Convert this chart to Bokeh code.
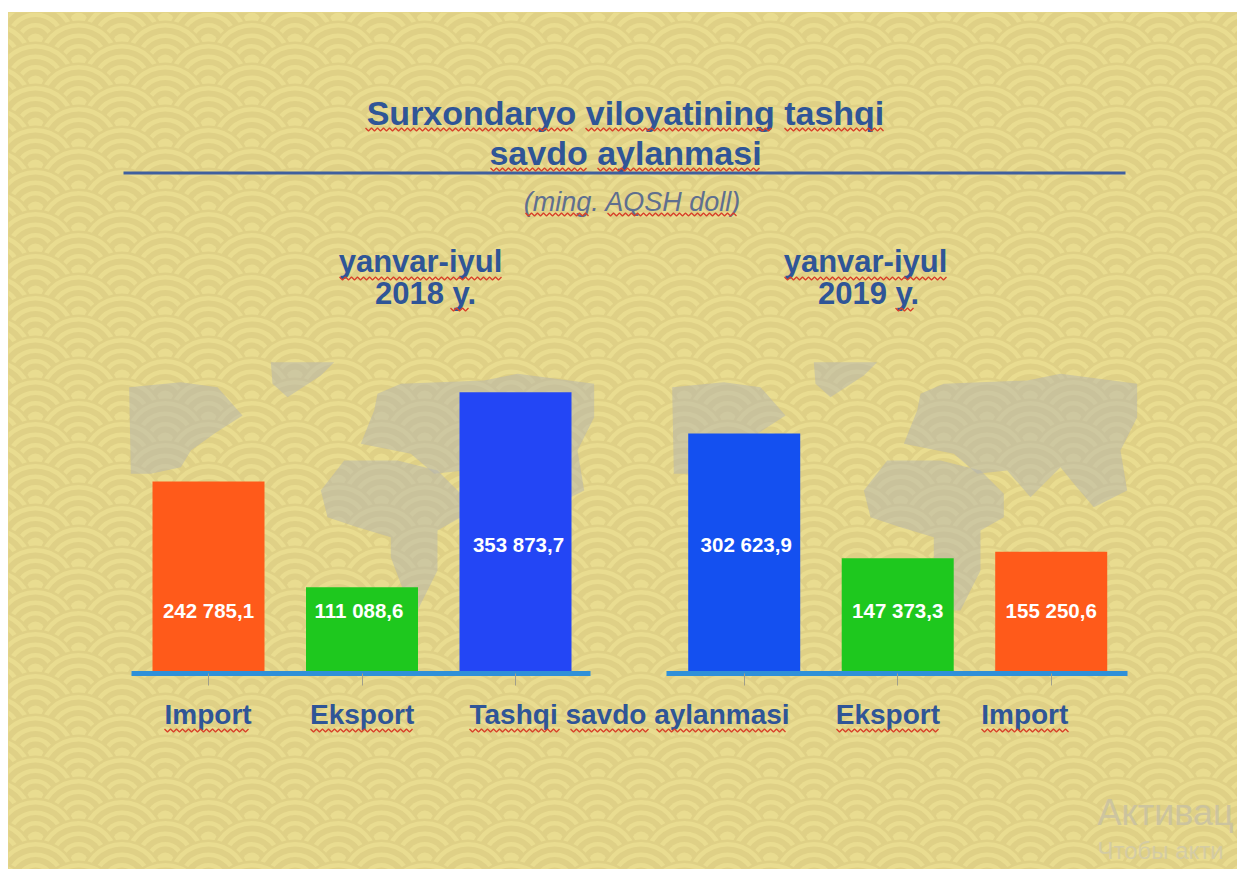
from bokeh.plotting import figure
from bokeh.models import Range1d, LinearAxis, FixedTicker
from bokeh.core.properties import value
from bokeh.embed import file_html
from bokeh.resources import INLINE
import numpy as np

# ---- data ----
labels_2018 = ["Import", "Eksport", "Tashqi savdo aylanmasi"]
values_2018 = [242785.1, 111088.6, 353873.7]
texts_2018 = ["242 785,1", "111 088,6", "353 873,7"]
labels_2019 = ["", "Eksport", "Import"]
values_2019 = [302623.9, 147373.3, 155250.6]
texts_2019 = ["302 623,9", "147 373,3", "155 250,6"]
title_lines = ["Surxondaryo viloyatining tashqi", "savdo aylanmasi"]
unit_text = "(ming. AQSH doll)"
period_text = "yanvar-iyul"
year_texts = ["2018 y.", "2019 y."]
watermark = ["Активац", "Чтобы акти"]

COL_IMPORT = "#ff5a1a"
COL_EXPORT = "#1ec81e"
COL_TOTAL_18 = "#2346f5"
COL_TOTAL_19 = "#1450f0"
COL_TITLE = "#2f5597"
FONT = value("Liberation Sans")

# ---- scales: page pixels <-> data ----
UNITS_PER_PX = 1245.4
ZERO_PY = 676.0
BAR_PX = 153.5
ORIGIN_PX = 208.0
LEFT, RIGHT, TOP, BOTTOM = 8, 1237, 12, 869

def X(px):
    return (np.asarray(px, dtype=float) - ORIGIN_PX) / BAR_PX

def Y(py):
    return (ZERO_PY - np.asarray(py, dtype=float)) * UNITS_PER_PX

p = figure(width=RIGHT, height=BOTTOM, output_backend="svg", toolbar_location=None,
           x_range=Range1d(float(X(LEFT)), float(X(RIGHT))),
           y_range=Range1d(float(Y(BOTTOM)), float(Y(TOP))),
           x_axis_type=None, y_axis_type=None,
           min_border_left=LEFT, min_border_right=0, min_border_top=TOP, min_border_bottom=0)
p.outline_line_color = None
p.grid.visible = False
p.background_fill_color = "#e4d68c"
p.border_fill_color = "white"

# ---- seigaiha background ----
PERIOD, ROW, XA = 86.5, 21.0, 35.0
LIGHT, DARK = "#e9dc90", "#dfd086"
RINGS = [(86, DARK), (81, LIGHT), (72, DARK), (60, LIGHT), (51, DARK),
         (39, LIGHT), (30, DARK), (18, LIGHT)]
xs, ys, sizes, cols = [], [], [], []
for r, cy in enumerate(np.arange(0, 930, ROW)):
    off = 0 if r % 2 == 0 else PERIOD / 2
    for cx in np.arange(XA + off - 2 * PERIOD, 1340, PERIOD):
        for d, c in RINGS:
            xs.append(cx); ys.append(cy); sizes.append(d); cols.append(c)
p.scatter(X(xs), Y(ys), size=sizes, fill_color=cols, line_color=None, marker="circle")

# ---- world map silhouettes (drawn on the 2019 map's zoomed outline) ----
MAP_SHAPES = [
    [(35, 110), (190, 95), (300, 110), (375, 195), (290, 250), (220, 300), (190, 350), (100, 370), (40, 370)],
    [(460, 35), (650, 35), (610, 75), (510, 140), (465, 100)],
    [(780, 130), (850, 100), (1100, 90), (1200, 70), (1430, 100), (1430, 200), (1380, 300), (1400, 420),
     (1300, 470), (1240, 400), (1200, 350), (1110, 440), (1040, 360), (950, 370), (880, 310), (730, 280), (770, 180)],
    [(610, 420), (680, 330), (840, 330), (960, 360), (1030, 430), (1030, 500), (960, 540), (960, 660),
     (900, 780), (880, 780), (820, 620), (820, 560), (720, 530), (630, 500)],
]
map_x, map_y = [], []
for shift in (0, -543):
    for shape in MAP_SHAPES:
        map_x.append(X([a / 3 + 660 + shift for a, _ in shape]).tolist())
        map_y.append(Y([b / 3 + 350 for _, b in shape]).tolist())
p.patches(map_x, map_y, fill_color="#b4b4b0", fill_alpha=0.5, line_color=None)

# ---- bars ----
GROUP_GAP = 3.49
bar_x = [0, 1, 2, GROUP_GAP, GROUP_GAP + 1, GROUP_GAP + 2]
bar_v = values_2018 + values_2019
bar_c = [COL_IMPORT, COL_EXPORT, COL_TOTAL_18, COL_TOTAL_19, COL_EXPORT, COL_IMPORT]
base = float(Y(673))
p.vbar(x=bar_x, width=112 / BAR_PX, bottom=base, top=bar_v, fill_color=bar_c, line_color=None)

# ---- value labels ----
val_y = [Y(610), Y(610), Y(544), Y(544), Y(610), Y(610)]
val_dx = [0, -3, 3, 2, 0, 0]
p.text(bar_x, [float(v) for v in val_y], text=texts_2018 + texts_2019, x_offset=val_dx,
       text_align="center", text_baseline="middle", text_color="white",
       text_font=FONT, text_font_style="bold", text_font_size="20.5px")

# ---- axes ----
for a, b, ticks in [(131, 590, bar_x[:3]), (666, 1127, bar_x[3:])]:
    ax = LinearAxis(fixed_location=base, bounds=(float(X(a)), float(X(b))),
                    ticker=FixedTicker(ticks=ticks),
                    major_label_overrides={t: "" for t in ticks},
                    major_label_text_font_size="1px",
                    axis_line_color="#2f90d8", axis_line_width=5,
                    major_tick_line_color="#a09f8a", major_tick_line_width=1,
                    major_tick_in=0, major_tick_out=12, minor_tick_line_color=None)
    p.add_layout(ax, "below")

# ---- category labels (placed by hand in the reference) ----
lab_dx = [-44, -52, -46, 0, -62, -70]
p.text(bar_x, float(Y(714)), text=labels_2018 + labels_2019, x_offset=lab_dx,
       text_align="left", text_baseline="middle", text_color=COL_TITLE,
       text_font=FONT, text_font_style="bold", text_font_size="28px")

# ---- heading block ----
def put(text, px, py, size, color=COL_TITLE, style="bold"):
    p.text([float(X(px))], [float(Y(py))], text=[text], text_align="center", text_baseline="middle",
           text_color=color, text_font=FONT, text_font_style=style, text_font_size=size)

put(title_lines[0], 625, 112, "34px")
put(title_lines[1], 625, 152, "34px")
p.line(X([123, 1125]), Y([172.5, 172.5]), line_color="#3f5f9e", line_width=3)
put(unit_text, 632, 201, "27px", color="#5f6f8f", style="italic")
put(period_text, 420, 261, "31px")
put(year_texts[0], 425, 293, "31px")
put(period_text, 865, 261, "31px")
put(year_texts[1], 868, 293, "31px")

# ---- spell-check squiggles ----
SQUIGGLES = [(365, 574, 129), (585, 773, 129), (784, 884, 129), (490, 586, 169), (597, 761, 169),
             (525, 588, 214), (607, 738, 214), (339, 502, 278), (784, 946, 278), (450, 468, 309),
             (895, 915, 309), (164, 250, 730), (310, 414, 730), (469, 560, 730), (570, 650, 730),
             (656, 785, 730), (836, 940, 730), (981, 1068, 730)]
sq_x, sq_y = [], []
for a, b, y in SQUIGGLES:
    px = np.arange(a, b + 1, 3.0)
    py = y + np.where(np.arange(len(px)) % 2 == 0, -1.4, 1.4)
    sq_x.append(X(px).tolist()); sq_y.append(Y(py).tolist())
p.multi_line(sq_x, sq_y, line_color="#d8402a", line_width=1.4)

# ---- faint watermark ----
p.text([float(X(1097))], [float(Y(812))], text=[watermark[0]], text_baseline="middle", text_align="left",
       text_color="#c9c2a2", text_font=FONT, text_font_size="36px", text_alpha=0.9)
p.text([float(X(1097))], [float(Y(850))], text=[watermark[1]], text_baseline="middle", text_align="left",
       text_color="#d2cba8", text_font=FONT, text_font_size="24px", text_alpha=0.9)

open("out.html", "w").write(file_html(p, INLINE))
